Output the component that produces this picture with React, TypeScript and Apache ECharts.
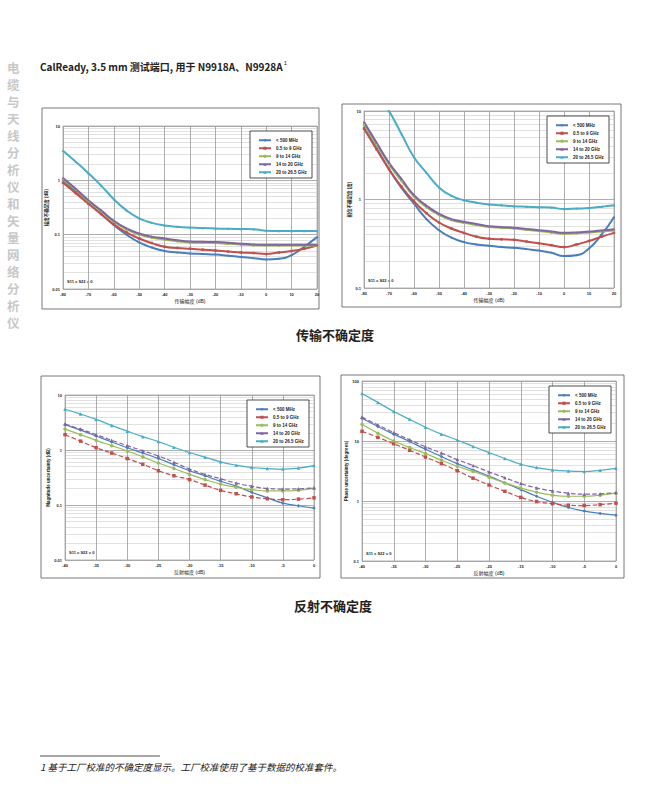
import React, { useEffect, useRef } from "react";
import * as echarts from "echarts";

// 数据
const names = ["< 500 MHz", "0.5 to 9 GHz", "9 to 14 GHz", "14 to 20 GHz", "20 to 26.5 GHz"];
const colors = ["#4a7ebb", "#c0504d", "#9bbb59", "#8064a2", "#4bacc6"];

const transX = [-80, -75, -70, -65, -60, -55, -50, -45, -40, -35, -30, -25, -20, -15, -10, -5, 0, 5, 10, 15, 20];
const reflX = [-40, -37.5, -35, -32.5, -30, -27.5, -25, -22.5, -20, -17.5, -15, -12.5, -10, -7.5, -5, -2.5, 0];

// 传输幅度不确定度
const transMag = [
  [1.0, 0.62, 0.38, 0.24, 0.15, 0.1, 0.072, 0.058, 0.05, 0.047, 0.045, 0.044, 0.043, 0.041, 0.039, 0.037, 0.035, 0.036, 0.042, 0.06, 0.09],
  [0.9, 0.58, 0.37, 0.24, 0.155, 0.11, 0.085, 0.07, 0.06, 0.057, 0.055, 0.053, 0.051, 0.049, 0.047, 0.046, 0.044, 0.047, 0.05, 0.055, 0.063],
  [1.05, 0.67, 0.41, 0.27, 0.173, 0.125, 0.1, 0.088, 0.081, 0.076, 0.072, 0.071, 0.07, 0.068, 0.066, 0.064, 0.063, 0.063, 0.063, 0.063, 0.063],
  [1.1, 0.7, 0.43, 0.28, 0.18, 0.13, 0.105, 0.092, 0.085, 0.079, 0.075, 0.074, 0.073, 0.071, 0.068, 0.066, 0.065, 0.065, 0.065, 0.065, 0.065],
  [3.5, 2.2, 1.35, 0.8, 0.45, 0.28, 0.2, 0.165, 0.148, 0.14, 0.135, 0.132, 0.13, 0.128, 0.127, 0.126, 0.118, 0.117, 0.117, 0.117, 0.117],
];
// 传输相位不确定度
const transPhase = [
  [6.5, 3.8, 2.2, 1.35, 0.9, 0.6, 0.45, 0.37, 0.33, 0.31, 0.3, 0.29, 0.285, 0.275, 0.265, 0.25, 0.23, 0.235, 0.28, 0.4, 0.63],
  [6.3, 3.7, 2.2, 1.4, 0.95, 0.7, 0.55, 0.47, 0.42, 0.38, 0.36, 0.355, 0.35, 0.335, 0.32, 0.305, 0.29, 0.31, 0.34, 0.38, 0.42],
  [7.0, 4.2, 2.5, 1.62, 1.08, 0.82, 0.67, 0.585, 0.545, 0.515, 0.49, 0.48, 0.47, 0.455, 0.44, 0.425, 0.41, 0.415, 0.425, 0.435, 0.445],
  [7.5, 4.4, 2.6, 1.7, 1.12, 0.85, 0.69, 0.6, 0.56, 0.53, 0.5, 0.49, 0.48, 0.465, 0.45, 0.435, 0.42, 0.425, 0.435, 0.445, 0.46],
  [25, 16, 10, 5.5, 3, 2, 1.37, 1.1, 0.98, 0.92, 0.88, 0.86, 0.84, 0.83, 0.82, 0.81, 0.78, 0.79, 0.8, 0.83, 0.86],
];
// 反射幅度不确定度
const reflMag = [
  [2.9, 2.3, 1.8, 1.4, 1.1, 0.88, 0.7, 0.54, 0.42, 0.34, 0.27, 0.22, 0.17, 0.135, 0.108, 0.097, 0.088],
  [1.9, 1.45, 1.1, 0.88, 0.7, 0.55, 0.42, 0.34, 0.29, 0.23, 0.185, 0.16, 0.14, 0.13, 0.125, 0.128, 0.135],
  [2.4, 1.9, 1.5, 1.2, 0.96, 0.75, 0.58, 0.46, 0.36, 0.29, 0.24, 0.21, 0.19, 0.18, 0.18, 0.185, 0.2],
  [2.95, 2.4, 1.9, 1.5, 1.2, 0.97, 0.78, 0.6, 0.45, 0.36, 0.3, 0.25, 0.22, 0.2, 0.195, 0.197, 0.205],
  [5.5, 4.5, 3.6, 2.8, 2.2, 1.75, 1.42, 1.12, 0.9, 0.74, 0.61, 0.53, 0.48, 0.46, 0.45, 0.47, 0.52],
];
// 反射相位不确定度
const reflPhase = [
  [24, 17.5, 13, 9.8, 7.3, 5.5, 4.2, 3.3, 2.6, 2.0, 1.55, 1.2, 0.95, 0.78, 0.68, 0.62, 0.58],
  [14.5, 11.5, 9.0, 7.0, 5.4, 4.2, 3.2, 2.4, 1.85, 1.45, 1.15, 0.98, 0.9, 0.85, 0.84, 0.87, 0.92],
  [19, 13.5, 10, 7.8, 6.2, 4.8, 3.8, 3.1, 2.5, 2.0, 1.65, 1.4, 1.25, 1.2, 1.2, 1.25, 1.35],
  [25, 18.5, 13.8, 10.5, 8, 6.3, 4.9, 3.9, 3.05, 2.45, 1.95, 1.65, 1.47, 1.35, 1.3, 1.32, 1.38],
  [62, 44, 31, 23, 17, 13, 10.4, 8.1, 6.4, 5.1, 4.1, 3.6, 3.3, 3.15, 3.1, 3.25, 3.5],
];

const panels = [
  { box: [42, 108, 277, 201], plot: [63, 126, 317, 289], xs: transX, ys: transMag, xmin: -80, xmax: 20, xint: 10, ymin: 0.01, ymax: 10, xname: "传输幅度 (dB)", yname: "幅度不确定度 (dB)", dense: true },
  { box: [342, 104, 279, 203], plot: [364, 111, 614, 288], xs: transX, ys: transPhase, xmin: -80, xmax: 20, xint: 10, ymin: 0.1, ymax: 10, xname: "传输幅度 (dB)", yname: "相位不确定度 (度)", dense: true },
  { box: [41, 376, 279, 202], plot: [65, 395, 314, 560], xs: reflX, ys: reflMag, xmin: -40, xmax: 0, xint: 5, ymin: 0.01, ymax: 10, xname: "反射幅度 (dB)", yname: "Magnitude uncertainty (dB)", dense: false },
  { box: [341, 375, 283, 203], plot: [362, 381, 616, 561], xs: reflX, ys: reflPhase, xmin: -40, xmax: 0, xint: 5, ymin: 0.1, ymax: 100, xname: "反射幅度 (dB)", yname: "Phase uncertainty (degrees)", dense: false },
];

const symbols = ["diamond", "rect", "circle", "triangle", "triangle"];
const dashes: any[] = ["solid", "dashed", "solid", "dashed", "solid"];
const sideText = "电缆与天线分析仪和矢量网络分析仪";

const App: React.FC = () => {
  const ref = useRef<HTMLDivElement>(null);

  useEffect(() => {
    const chart = echarts.init(ref.current, null, { renderer: "svg" });
    const grid: any[] = [];
    const xAxis: any[] = [];
    const yAxis: any[] = [];
    const series: any[] = [];
    const legend: any[] = [];
    const graphic: any[] = [];

    panels.forEach((p, i) => {
      const [x0, y0, x1, y1] = p.plot;
      grid.push({ left: x0, top: y0, width: x1 - x0, height: y1 - y0, show: true, borderColor: "#888", borderWidth: 0.6, backgroundColor: "#fff" });
      xAxis.push({
        type: "value", gridIndex: i, min: p.xmin, max: p.xmax, interval: p.xint,
        name: p.xname, nameLocation: "middle", nameGap: 9,
        nameTextStyle: { fontSize: 5, color: "#222" },
        axisLine: { show: false }, axisTick: { show: false },
        axisLabel: { fontSize: 4, fontWeight: "bold", color: "#222", margin: 3 },
        splitLine: { lineStyle: { color: "#999", width: 0.8 } },
      });
      yAxis.push({
        type: "log", gridIndex: i, min: p.ymin, max: p.ymax, logBase: 10,
        name: p.yname, nameLocation: "middle", nameGap: 12,
        nameTextStyle: { fontSize: 4.5, fontWeight: "bold", color: "#222" },
        axisLine: { show: false }, axisTick: { show: false },
        axisLabel: { fontSize: 4, fontWeight: "bold", color: "#222", margin: 3 },
        splitLine: { lineStyle: { color: "#999", width: 0.8 } },
        minorTick: { show: false, splitNumber: 9 },
        minorSplitLine: { show: true, lineStyle: { color: "#ccc", width: 0.6 } },
      });
      p.ys.forEach((vals, k) => {
        series.push({
          type: "line", name: names[k], xAxisIndex: i, yAxisIndex: i, smooth: true,
          data: p.xs.map((x, j) => [x, vals[j]]),
          symbol: symbols[k], symbolSize: p.dense ? 2.5 : 3.5, showAllSymbol: true,
          lineStyle: { color: colors[k], width: p.dense ? 2 : 1.2, type: p.dense ? "solid" : dashes[k] },
          itemStyle: { color: colors[k] },
          clip: true,
        });
      });
      const [bx, by, bw, bh] = p.box;
      graphic.push({ type: "rect", shape: { x: bx, y: by, width: bw, height: bh }, style: { fill: "none", stroke: "#555", lineWidth: 0.8 }, z: -10 });
      graphic.push({ type: "text", x: x0 + 4, y: y1 - 10, style: { text: "S11 = S22 = 0", fontSize: 4, fontWeight: "bold", fill: "#222" } });
      const lw = 62;
      const lx = x1 - lw - 5;
      const ly = y0 + 5;
      graphic.push({ type: "rect", shape: { x: lx, y: ly, width: lw, height: 47 }, style: { fill: "#fff", stroke: "#222", lineWidth: 0.8 }, z: 50 });
      legend.push({
        left: lx + 3, top: ly + 2, orient: "vertical", itemWidth: 12, itemHeight: 4, itemGap: 3.5,
        data: names.map((n) => ({ name: n })),
        textStyle: { fontSize: 4.5, fontWeight: "bold", color: "#222" }, z: 60,
      });
    });

    graphic.push(
      {
        type: "text", x: 40, y: 60,
        style: {
          text: "{a|CalReady, 3.5 mm 测试端口, 用于 N9918A、N9928A}{s|1}",
          rich: {
            a: { fontSize: 10, fontWeight: "bold", fill: "#222", fontFamily: "Noto Sans CJK SC" },
            s: { fontSize: 6, fill: "#222", verticalAlign: "top", padding: [0, 0, 6, 1] },
          },
        },
      },
      ...sideText.split("").map((ch, j) => ({
        type: "text", x: 7, y: 61 + j * 17,
        style: { text: ch, fontSize: 12.5, lineHeight: 12, fontWeight: "bold", fill: "#c8c8c8", fontFamily: "Noto Sans CJK SC" },
      })),
      { type: "text", x: 335, y: 334, style: { text: "传输不确定度", fontSize: 13, fontWeight: "bold", fill: "#222", align: "center", verticalAlign: "middle", fontFamily: "Noto Sans CJK SC" } },
      { type: "text", x: 333, y: 605, style: { text: "反射不确定度", fontSize: 13, fontWeight: "bold", fill: "#222", align: "center", verticalAlign: "middle", fontFamily: "Noto Sans CJK SC" } },
      { type: "line", shape: { x1: 40, y1: 756, x2: 160, y2: 756 }, style: { stroke: "#222", lineWidth: 0.8 } },
      { type: "text", x: 40, y: 762, style: { text: "1 基于工厂校准的不确定度显示。工厂校准使用了基于数据的校准套件。", fontSize: 9.5, fontStyle: "italic", fill: "#222", fontFamily: "Noto Sans CJK SC" } },
    );

    chart.setOption({
      animation: false,
      textStyle: { fontFamily: "Liberation Sans, Noto Sans CJK SC" },
      grid, xAxis, yAxis, series, legend, graphic,
    });
    return () => chart.dispose();
  }, []);

  return <div ref={ref} style={{ position: "absolute", left: 0, top: 0, width: 650, height: 809 }} />;
};

export default App;
